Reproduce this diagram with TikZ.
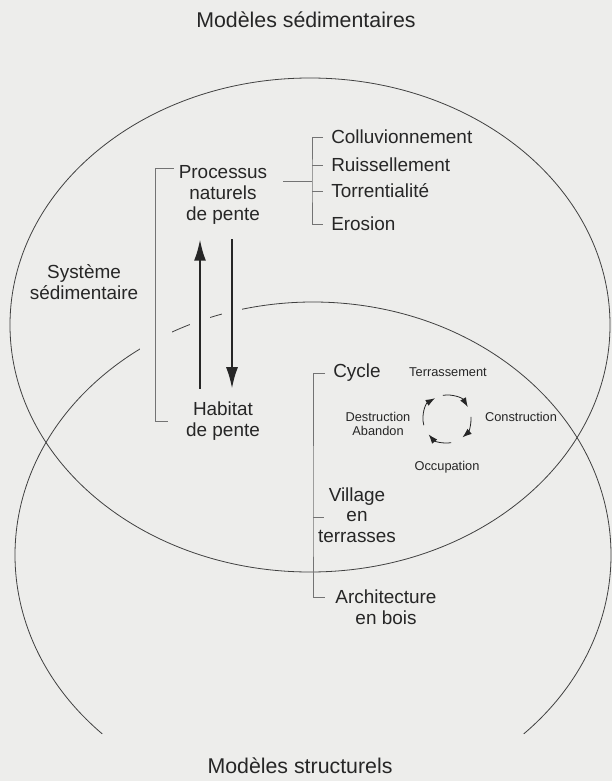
\documentclass[tikz,border=0pt]{standalone}
\usepackage{fontspec}
\setmainfont{Liberation Sans}
\usepackage{tikz}
\usetikzlibrary{arrows.meta,positioning,calc}
\definecolor{paper}{RGB}{237,237,235}
\definecolor{ink}{RGB}{38,38,38}
\definecolor{rulegray}{RGB}{115,115,115}
\tikzstyle{outline} = [line width=0.6pt, draw=black!75]
\tikzstyle{bracket} = [line width=0.5pt, draw=rulegray]
\tikzstyle{bigarrow} = [line width=1.6pt, draw=ink, -{Latex[length=16pt,width=9pt]}, preaction={draw=paper, line width=15pt, -}]
\tikzstyle{cyclearrow} = [line width=0.6pt, draw=ink, -{Latex[length=7pt,width=5pt]}]
\tikzstyle{txt} = [font=\fontsize{14.2}{15.5}\selectfont, text=ink, align=center, inner sep=0pt]
\tikzstyle{smalltxt} = [font=\fontsize{9.6}{10.5}\selectfont, text=ink, align=center, inner sep=0pt]
\tikzstyle{title} = [font=\fontsize{16}{18}\selectfont, text=ink, inner sep=0pt]

\begin{document}
\begin{tikzpicture}[x=0.75pt, y=-0.75pt]
    \useasboundingbox (0,0) rectangle (612,781);
    \fill[paper] (0,0) rectangle (612,781);

    % Titles
    \node[title] (sedi) at (306,20) {Modèles sédimentaires};
    \node[title] (stru) at (300,766) {Modèles structurels};

    % Two model fields
    \draw[outline] (310,325) ellipse [x radius=300, y radius=247];
    \draw[outline] ([shift={(135:298 and 253)}]313,555) arc[start angle=135, end angle=405, x radius=298, y radius=253];

    % Sedimentary system
    \node[txt] (sys) at (84,282) {Système\\sédimentaire};
    \node[txt, inner xsep=3.75pt] (proc) at (223,195) {Processus\\naturels\\de pente};
    \node[txt, inner xsep=13.3pt] (hab) at (223,421) {Habitat\\de pente};
    \draw[bracket, preaction={draw=paper, line width=24pt}] ([yshift=-2pt]proc.north west) -- ++(-18,0) |- (hab.west);

    % Arrows
    \draw[bigarrow] ([shift={(-23,-13)}]hab.north) -- ([shift={(-23,15)}]proc.south);
    \draw[bigarrow] ([shift={(9,15)}]proc.south) -- ([shift={(9,-13)}]hab.north);

    % Slope processes
    \node[txt, anchor=west, inner xsep=6pt] (coll) at (323,137) {Colluvionnement};
    \node[txt, anchor=west, inner xsep=6pt] (ruis) at (323,165) {Ruissellement};
    \node[txt, anchor=west, inner xsep=6pt] (torr) at (323,191) {Torrentialité};
    \node[txt, anchor=west, inner xsep=6pt] (eros) at (323,224) {Erosion};
    \coordinate (pj) at (312,181);
    \draw[bracket] ($(proc.east |- pj)+(11,0)$) -- (pj);
    \draw[bracket] (coll.west) -| (pj) |- (eros.west);
    \draw[bracket] (pj |- ruis.west) -- (ruis.west);
    \draw[bracket] (pj |- torr.west) -- (torr.west);

    % Structural side
    \node[txt, anchor=west, inner xsep=6pt] (cyc) at (325,373) {Cycle};
    \node[txt] (vil) at (357,515) {Village\\en\\terrasses};
    \node[txt, inner xsep=7.5pt] (arch) at (386,607) {Architecture\\en bois};
    \coordinate (lj) at (313,517);
    \draw[bracket] (cyc.west) -| (lj) |- ([yshift=7.5pt]arch.west);
    \draw[bracket] (lj) -- ++(11,0);

    % Cycle
    \coordinate (cy0) at (447,419);
    \foreach \a/\b in {-100/-30, -5/50, 80/140, 165/240}
        \draw[cyclearrow] ([shift={(\a:24)}]cy0) arc[start angle=\a, end angle=\b, radius=24];
    \node[smalltxt] (terr) at (448,372) {Terrassement};
    \node[smalltxt] (cons) at (521,417) {Construction};
    \node[smalltxt] (occ) at (447,467) {Occupation};
    \node[smalltxt] (dest) at (378,424) {Destruction\\Abandon};
\end{tikzpicture}
\end{document}
